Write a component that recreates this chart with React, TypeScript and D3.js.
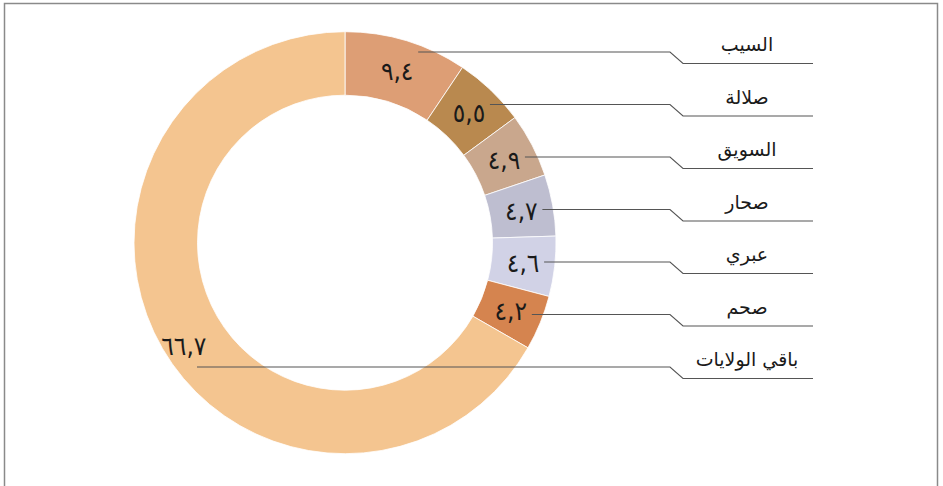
import { useEffect, useRef } from "react";
import * as d3 from "d3";

// شرائح المخطط بالترتيب (من أعلى المنتصف، باتجاه عقارب الساعة)
const regions = ["السيب", "صلالة", "السويق", "صحار", "عبري", "صحم", "باقي الولايات"];
const shares = [9.4, 5.5, 4.9, 4.7, 4.6, 4.2, 66.7];
const shareLabels = ["٩,٤", "٥,٥", "٤,٩", "٤,٧", "٤,٦", "٤,٢", "٦٦,٧"];
const sliceColors = ["#DD9E75", "#B9894F", "#C9A78D", "#BEBED0", "#D1D2E6", "#D5844F", "#F4C590"];

const W = 943;
const H = 486;

export default function App() {
  const ref = useRef<SVGSVGElement>(null);

  useEffect(() => {
    if (!ref.current) return;
    const svg = d3.select(ref.current);
    svg.selectAll("*").remove();

    const cx = 345;
    const cy = 242.7;
    const outerR = 211;
    const innerR = 147.5;

    // frame
    svg.append("rect")
      .attr("x", 4.5).attr("y", 3.5)
      .attr("width", 933).attr("height", 500)
      .attr("fill", "none")
      .attr("stroke", "#8a8a8a")
      .attr("stroke-width", 1.5);

    const data = regions.map((name, i) => ({ name, value: shares[i], label: shareLabels[i], color: sliceColors[i] }));

    const pie = d3.pie<typeof data[number]>().value(d => d.value).sort(null);
    const arcs = pie(data);
    const arc = d3.arc<d3.PieArcDatum<typeof data[number]>>().innerRadius(innerR).outerRadius(outerR);

    const g = svg.append("g").attr("transform", `translate(${cx},${cy})`);
    g.selectAll("path")
      .data(arcs)
      .join("path")
      .attr("d", arc)
      .attr("fill", d => d.data.color)
      .attr("stroke", "#ffffff")
      .attr("stroke-width", 0.8);

    // label rows on the right
    const row = d3.scaleLinear().domain([0, 1]).range([52, 104.5]);
    const lines = svg.append("g").attr("fill", "none").attr("stroke", "#555").attr("stroke-width", 1.1);
    const texts = svg.append("g");

    arcs.forEach((a, i) => {
      const [mx, my] = arc.centroid(a);
      let tx = cx + mx;
      let ty = cy + my;
      if (i === arcs.length - 1) { tx -= 6; ty += 14; }
      const y = row(i);
      const startX = i === arcs.length - 1 ? 197 : cx + mx + 21;

      lines.append("path")
        .attr("d", d3.line()([[startX, y], [670, y], [683, y + 11.5], [813, y + 11.5]]));

      texts.append("text")
        .attr("x", tx).attr("y", ty)
        .attr("text-anchor", "middle")
        .attr("dominant-baseline", "central")
        .attr("font-family", "DejaVu Sans Condensed, DejaVu Sans, sans-serif")
        .attr("font-size", 26)
        .attr("fill", "#1a1a1a")
        .text(a.data.label);

      texts.append("text")
        .attr("x", 747).attr("y", y - 1)
        .attr("text-anchor", "middle")
        .attr("direction", "rtl")
        .attr("font-family", "DejaVu Sans, sans-serif")
        .attr("font-size", 19)
        .attr("fill", "#1a1a1a")
        .text(a.data.name);
    });
  }, []);

  return (
    <div style={{ position: "fixed", left: 0, top: 0, background: "#fff" }}>
      <svg ref={ref} width={W} height={H} />
    </div>
  );
}
